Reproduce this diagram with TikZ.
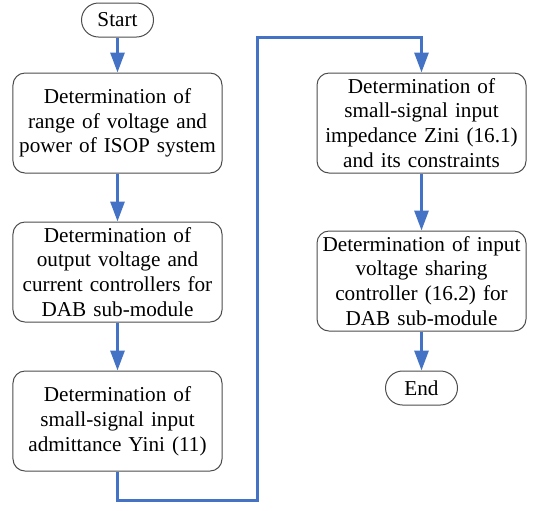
\documentclass[tikz,border=0pt]{standalone}
\usepackage{fontspec}
\setmainfont{Liberation Serif}
\usepackage{tikz}
\usetikzlibrary{arrows.meta, positioning}
\definecolor{flowblue}{RGB}{68,114,196}

\begin{document}
\begin{tikzpicture}[
    box/.style={draw=black!70, rectangle, rounded corners=6pt, line width=0.5pt, minimum height=50pt, text width=100pt, inner sep=2.25pt, align=center, font=\fontsize{10.6}{12.4}\selectfont},
    term/.style={draw=black!70, rectangle, rounded corners=8.5pt, line width=0.5pt, minimum height=17pt, minimum width=36pt, inner sep=0pt, font=\fontsize{10.6}{12.4}\selectfont},
    arrow/.style={draw=flowblue, line width=1.5pt, -{Triangle[width=7pt,length=10pt]}}
]
\useasboundingbox (-58.75pt,10pt) rectangle (208.25pt,-245pt);

% Left column
\node (start) [term] {Start};
\node (range) [box, below=17.5pt of start] {Determination of\\ range of voltage and\\ power of ISOP system};
\node (ctrl) [box, below=24pt of range] {Determination of\\ output voltage and\\ current controllers for\\ DAB sub-module};
\node (yini) [box, below=24pt of ctrl] {Determination of\\ small-signal input\\ admittance Yini (11)};

% Right column
\node (zini) [box, right=47pt of range] {Determination of\\ small-signal input\\ impedance Zini (16.1)\\ and its constraints};
\node (share) [box, below=28.5pt of zini] {Determination of input\\ voltage sharing\\ controller (16.2) for\\ DAB sub-module};
\node (end) [term, below=19.5pt of share] {End};

\coordinate (botturn) at (69.75pt,-240pt);
\coordinate (topturn) at (69.75pt,-8.5pt);

\draw [arrow] (start) -- (range);
\draw [arrow] (range) -- (ctrl);
\draw [arrow] (ctrl) -- (yini);
\draw [arrow] (yini.south) |- (botturn) -- (topturn) -| (zini.north);
\draw [arrow] (zini) -- (share);
\draw [arrow] (share) -- (end);

\end{tikzpicture}
\end{document}
